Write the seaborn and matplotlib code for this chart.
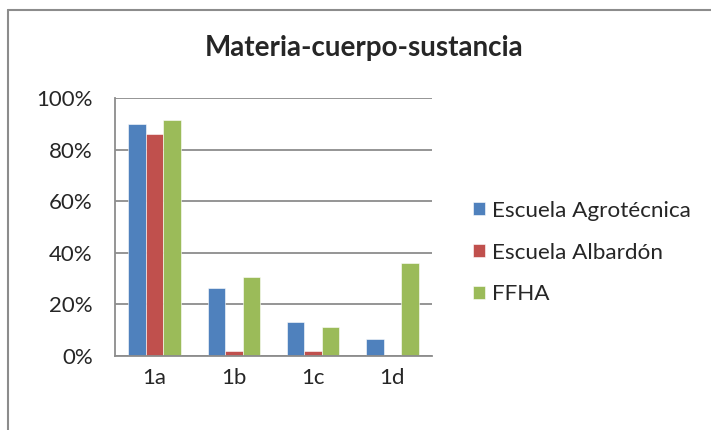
import numpy as np
import pandas as pd
import matplotlib
matplotlib.use("Agg")
import matplotlib.pyplot as plt
import matplotlib.lines as mlines
import seaborn as sns

# Values (percent)
categories = ["1a", "1b", "1c", "1d"]
agrotecnica = [90, 26.5, 13, 6.6]
albardon = [86, 1.8, 1.8, 0]
ffha = [91.4, 30.5, 11.1, 35.9]
series_names = ["Escuela Agrotécnica", "Escuela Albardón", "FFHA"]
colors = ["#4F81BD", "#C0504D", "#9BBB59"]

df = pd.DataFrame({
    "cat": categories * 3,
    "serie": [s for s in series_names for _ in categories],
    "valor": agrotecnica + albardon + ffha,
})

sns.set_style("white")
plt.rcParams["font.family"] = ["Lato", "DejaVu Sans"]

fig = plt.figure(figsize=(7.11, 4.30), dpi=100)
ax = fig.add_axes([0.1617, 0.1721, 0.4459, 0.600])

sns.barplot(data=df, x="cat", y="valor", hue="serie", palette=colors,
            width=0.665, saturation=1, ax=ax, legend=True)

ax.set_ylim(0, 100)
ax.set_yticks(np.arange(0, 101, 20))
ax.set_yticklabels([f"{v}%" for v in range(0, 101, 20)], fontsize=16)
ax.tick_params(axis="x", labelsize=16, length=0, pad=9)
ax.tick_params(axis="y", length=0, pad=16)
ax.set_xlabel("")
ax.set_ylabel("")
ax.yaxis.grid(True, color="#8c8c8c", linewidth=1.3)
ax.set_axisbelow(True)
for s in ["top", "right"]:
    ax.spines[s].set_visible(False)
for s in ["left", "bottom"]:
    ax.spines[s].set_color("#8c8c8c")
    ax.spines[s].set_linewidth(1.3)

for p in ax.patches:
    p.set_edgecolor("white")
    p.set_linewidth(0.4)

leg = ax.legend(loc="center left", bbox_to_anchor=(1.129, 0.401), frameon=False,
                fontsize=16.2, handlelength=0.53, handleheight=0.53,
                handletextpad=0.32, labelspacing=0.97, borderpad=0,
                borderaxespad=0)

fig.text(0.512, 0.888, "Materia-cuerpo-sustancia", ha="center", va="center",
         fontsize=20, fontweight="bold")

# outer chart frame
fig.add_artist(mlines.Line2D([8 / 711, 8 / 711], [0, 1 - 10 / 430],
                             color="#8c8c8c", linewidth=1.5))
fig.add_artist(mlines.Line2D([8 / 711, 1], [1 - 10 / 430, 1 - 10 / 430],
                             color="#8c8c8c", linewidth=1.5))

fig.savefig("out.png", dpi=100)
